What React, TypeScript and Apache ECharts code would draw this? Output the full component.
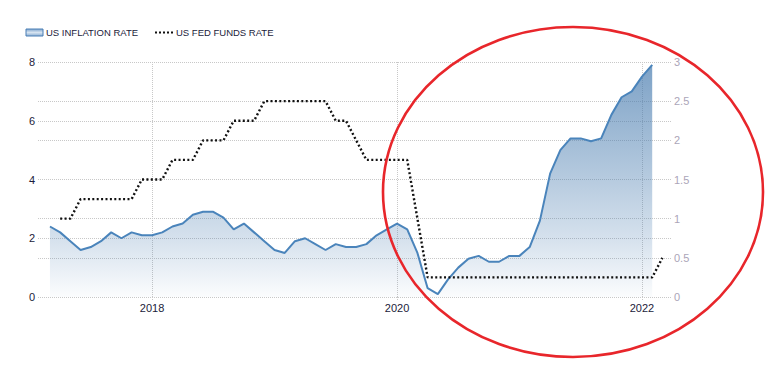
import React, { useEffect, useRef } from "react";
import * as echarts from "echarts";

// Monthly data
const inflationStart = [2017, 3]; // Mar 2017
const inflationRate = [
  2.4, 2.2, 1.9, 1.6, 1.7, 1.9, 2.2, 2.0, 2.2, 2.1,
  2.1, 2.2, 2.4, 2.5, 2.8, 2.9, 2.9, 2.7, 2.3, 2.5, 2.2, 1.9,
  1.6, 1.5, 1.9, 2.0, 1.8, 1.6, 1.8, 1.7, 1.7, 1.8, 2.1, 2.3,
  2.5, 2.3, 1.5, 0.3, 0.1, 0.6, 1.0, 1.3, 1.4, 1.2, 1.2, 1.4,
  1.4, 1.7, 2.6, 4.2, 5.0, 5.4, 5.4, 5.3, 5.4, 6.2, 6.8, 7.0,
  7.5, 7.9,
];

const fedStart = [2017, 4]; // Apr 2017
const fedFundsRate = [
  1.0, 1.0, 1.25, 1.25, 1.25, 1.25, 1.25, 1.25, 1.5,
  1.5, 1.5, 1.75, 1.75, 1.75, 2.0, 2.0, 2.0, 2.25, 2.25, 2.25, 2.5,
  2.5, 2.5, 2.5, 2.5, 2.5, 2.5, 2.25, 2.25, 2.0, 1.75, 1.75, 1.75,
  1.75, 1.75, 1.0, 0.25, 0.25, 0.25, 0.25, 0.25, 0.25, 0.25, 0.25, 0.25,
  0.25, 0.25, 0.25, 0.25, 0.25, 0.25, 0.25, 0.25, 0.25, 0.25, 0.25, 0.25,
  0.25, 0.25, 0.5,
];

const xTickYears = [2018, 2020, 2022];
const leftAxisMax = 8;
const leftAxisStep = 2;
const rightAxisMax = 3;
const rightAxisStep = 0.5;

function toPairs(start: number[], values: number[]) {
  return values.map((v, i) => {
    const m = start[1] - 1 + i;
    return [start[0] + m / 12, v];
  });
}

const FONT = "'Liberation Sans', Arial, sans-serif";

export default function App() {
  const ref = useRef<HTMLDivElement>(null);

  useEffect(() => {
    if (!ref.current) return;
    const chart = echarts.init(ref.current, undefined, { renderer: "svg" });
    const splitLineStyle = { color: "#c8c8c8", type: "dotted" as const, width: 1 };

    chart.setOption({
      animation: false,
      backgroundColor: "#ffffff",
      grid: { left: 38, right: 111, top: 62, bottom: 83 },
      xAxis: {
        type: "value",
        min: 2017.069,
        max: 2022.245,
        axisLine: { show: false },
        axisTick: {
          show: true,
          customValues: xTickYears,
          length: 3,
          lineStyle: splitLineStyle,
        },
        axisLabel: {
          customValues: xTickYears,
          formatter: (v: number) => String(Math.round(v)),
          color: "#1b1b3a",
          fontSize: 11,
          fontFamily: FONT,
          margin: 5,
        },
        splitLine: { show: true, lineStyle: splitLineStyle },
      },
      yAxis: [
        {
          type: "value",
          position: "left",
          min: 0,
          max: leftAxisMax,
          interval: leftAxisStep,
          axisLine: { show: false },
          axisTick: { show: false },
          axisLabel: { color: "#1b1b3a", fontSize: 11, fontFamily: FONT, margin: 3 },
          splitLine: { show: true, lineStyle: splitLineStyle },
        },
        {
          type: "value",
          position: "right",
          min: 0,
          max: rightAxisMax,
          interval: rightAxisStep,
          axisLine: { show: false },
          axisTick: { show: false },
          axisLabel: { color: "#aba5b8", fontSize: 11, fontFamily: FONT, margin: 2 },
          splitLine: { show: true, lineStyle: splitLineStyle },
        },
      ],
      series: [
        {
          name: "US INFLATION RATE",
          type: "line",
          yAxisIndex: 0,
          data: toPairs(inflationStart, inflationRate),
          showSymbol: false,
          symbol: "none",
          lineStyle: { color: "#4a84bb", width: 2 },
          areaStyle: {
            color: new echarts.graphic.LinearGradient(0, 0, 0, 1, [
              { offset: 0, color: "rgba(70,122,174,1)" },
              { offset: 0.45, color: "rgba(70,122,174,0.6)" },
              { offset: 0.75, color: "rgba(70,122,174,0.32)" },
              { offset: 1, color: "rgba(70,122,174,0.03)" },
            ]),
          },
          z: 2,
        },
        {
          name: "US FED FUNDS RATE",
          type: "line",
          yAxisIndex: 1,
          data: toPairs(fedStart, fedFundsRate),
          showSymbol: false,
          symbol: "none",
          lineStyle: { color: "#111111", width: 2.4, type: [2, 2.4] },
          z: 3,
        },
      ],
      graphic: [
        {
          type: "rect",
          shape: { x: 26, y: 29, width: 17, height: 7 },
          style: {
            fill: new echarts.graphic.LinearGradient(0, 0, 0, 1, [
              { offset: 0, color: "#7fa5cd" },
              { offset: 0.5, color: "#d6e3f0" },
              { offset: 1, color: "#8aaed3" },
            ]),
            stroke: "#4a7fb5",
            lineWidth: 1,
          },
        },
        {
          type: "text",
          x: 46,
          y: 32.5,
          style: {
            text: "US INFLATION RATE",
            fill: "#1b1b3a",
            fontSize: 9.5,
            fontFamily: FONT,
            textVerticalAlign: "middle",
            verticalAlign: "middle",
          },
        },
        {
          type: "line",
          shape: { x1: 155, y1: 32.5, x2: 173, y2: 32.5 },
          style: { stroke: "#111", lineWidth: 2, lineDash: [2, 2] },
        },
        {
          type: "text",
          x: 176,
          y: 32.5,
          style: {
            text: "US FED FUNDS RATE",
            fill: "#1b1b3a",
            fontSize: 9.5,
            fontFamily: FONT,
            textVerticalAlign: "middle",
            verticalAlign: "middle",
          },
        },
        {
          type: "ellipse",
          shape: { cx: 573, cy: 192, rx: 190, ry: 165 },
          style: { fill: "none", stroke: "#e8262b", lineWidth: 2.6 },
          z: 100,
        },
      ],
    });

    return () => chart.dispose();
  }, []);

  return (
    <div
      ref={ref}
      style={{ position: "fixed", left: 0, top: 0, width: 783, height: 380 }}
    />
  );
}
